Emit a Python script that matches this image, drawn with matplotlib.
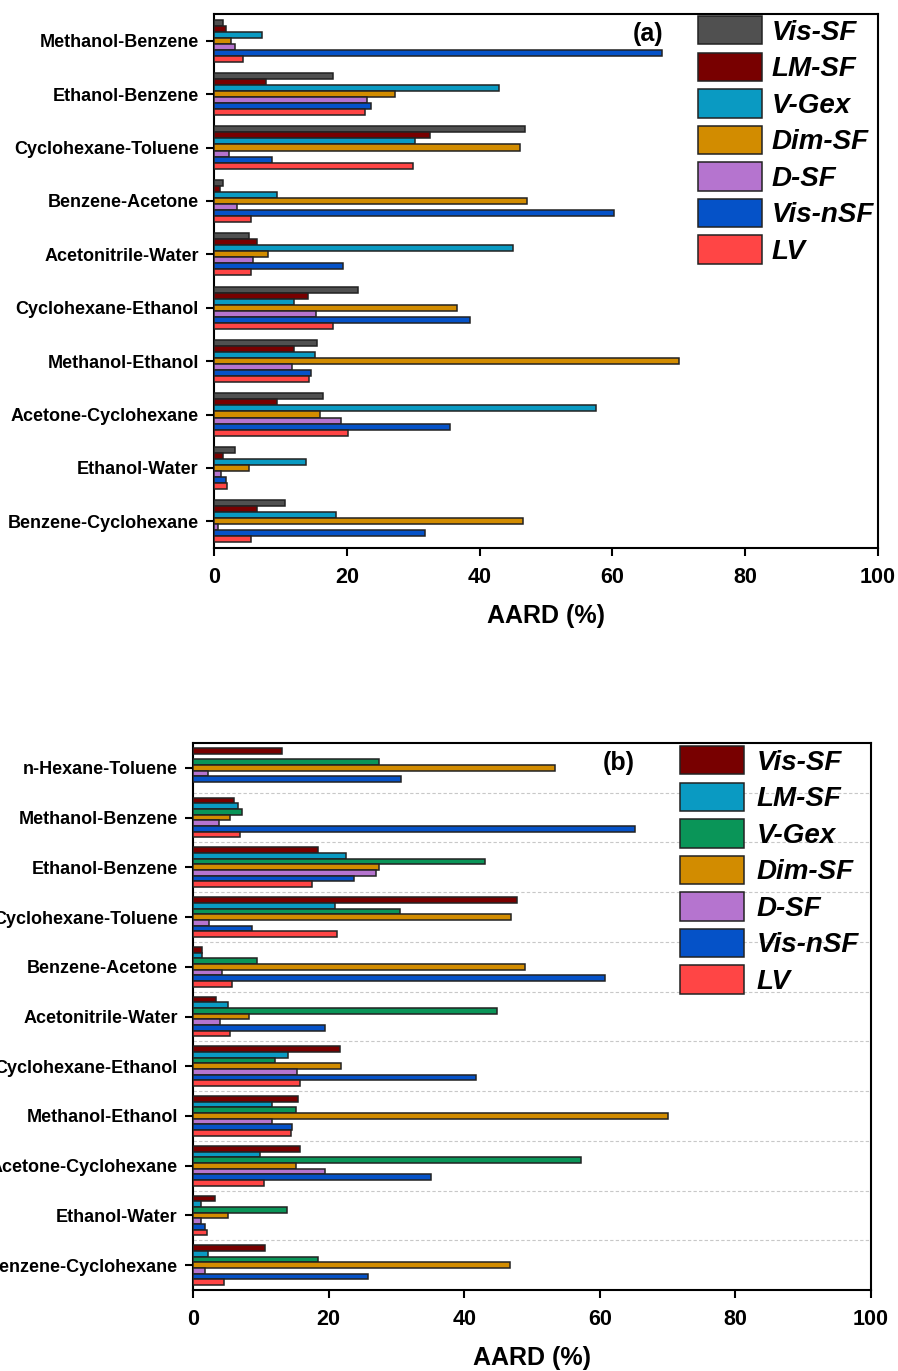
import numpy as np
import matplotlib.pyplot as plt

plt.rcParams['font.family'] = ['Liberation Sans', 'DejaVu Sans']
plt.rcParams['font.weight'] = 'bold'

# ---- panel (a) data ----
systems_a = ['Methanol-Benzene', 'Ethanol-Benzene', 'Cyclohexane-Toluene', 'Benzene-Acetone',
             'Acetonitrile-Water', 'Cyclohexane-Ethanol', 'Methanol-Ethanol',
             'Acetone-Cyclohexane', 'Ethanol-Water', 'Benzene-Cyclohexane']
models_a = ['Vis-SF', 'LM-SF', 'V-Gex', 'Dim-SF', 'D-SF', 'Vis-nSF', 'LV']
colors_a = ['#505050', '#780000', '#0a9ac2', '#d28c00', '#b574cf', '#0552c8', '#ff4545']

vis_sf_a = [1.3, 17.9, 46.8, 1.4, 5.2, 21.7, 15.5, 16.4, 3.2, 10.7]
lm_sf_a = [1.8, 7.8, 32.5, 0.9, 6.5, 14.1, 12.1, 9.5, 1.3, 6.5]
v_gex_a = [7.3, 42.9, 30.2, 9.5, 45.0, 12.0, 15.2, 57.5, 13.8, 18.3]
dim_sf_a = [2.6, 27.3, 46.1, 47.2, 8.2, 36.6, 70.1, 16.0, 5.2, 46.5]
d_sf_a = [3.2, 23.0, 2.3, 3.5, 5.8, 15.4, 11.7, 19.1, 1.1, 0.6]
vis_nsf_a = [67.5, 23.6, 8.7, 60.3, 19.5, 38.5, 14.6, 35.5, 1.8, 31.8]
lv_a = [4.3, 22.7, 29.9, 5.6, 5.5, 17.9, 14.3, 20.2, 2.0, 5.5]
series_a = [vis_sf_a, lm_sf_a, v_gex_a, dim_sf_a, d_sf_a, vis_nsf_a, lv_a]

# ---- panel (b) data ----
systems_b = ['n-Hexane-Toluene', 'Methanol-Benzene', 'Ethanol-Benzene', 'Cyclohexane-Toluene',
             'Benzene-Acetone', 'Acetonitrile-Water', 'Cyclohexane-Ethanol', 'Methanol-Ethanol',
             'Acetone-Cyclohexane', 'Ethanol-Water', 'Benzene-Cyclohexane']
models_b = ['Vis-SF', 'LM-SF', 'V-Gex', 'Dim-SF', 'D-SF', 'Vis-nSF', 'LV']
colors_b = ['#780000', '#0a9ac2', '#0a9558', '#d28c00', '#b574cf', '#0552c8', '#ff4545']

vis_sf_b = [13.2, 6.1, 18.5, 47.8, 1.4, 3.4, 21.7, 15.5, 15.8, 3.3, 10.6]
lm_sf_b = [np.nan, 6.6, 22.6, 21.0, 1.3, 5.2, 14.0, 11.6, 9.9, 1.2, 2.2]
v_gex_b = [27.5, 7.3, 43.0, 30.5, 9.4, 44.9, 12.1, 15.2, 57.3, 13.8, 18.4]
dim_sf_b = [53.4, 5.4, 27.5, 46.9, 49.0, 8.3, 21.9, 70.1, 15.2, 5.2, 46.8]
d_sf_b = [2.2, 3.8, 27.0, 2.3, 4.3, 4.0, 15.4, 11.7, 19.5, 1.2, 1.7]
vis_nsf_b = [30.7, 65.2, 23.8, 8.7, 60.8, 19.4, 41.8, 14.6, 35.1, 1.8, 25.8]
lv_b = [np.nan, 6.9, 17.5, 21.2, 5.7, 5.5, 15.8, 14.4, 10.5, 2.1, 4.6]
series_b = [vis_sf_b, lm_sf_b, v_gex_b, dim_sf_b, d_sf_b, vis_nsf_b, lv_b]


def draw_panel(ax, systems, models, colors, series, bar_h, tag, tag_x, grid=False):
    y = np.arange(len(systems))
    n = len(series)
    for i, (vals, c, name) in enumerate(zip(series, colors, models)):
        offs = (i - (n - 1) / 2) * bar_h
        ax.barh(y + offs, vals, height=bar_h, color=c, edgecolor='#222222',
                linewidth=1.1, label=name, zorder=3)
    if grid:
        for k in range(len(systems) - 1):
            ax.axhline(k + 0.5, color='#c8c8c8', linestyle=(0, (3, 2)), linewidth=0.8, zorder=1)
    ax.set_yticks(y)
    ax.set_yticklabels(systems, fontsize=13, fontweight='bold')
    ax.set_ylim(len(systems) - 0.5, -0.5)
    ax.set_xlim(0, 100)
    ax.set_xticks([0, 20, 40, 60, 80, 100])
    ax.tick_params(axis='x', labelsize=15.5, direction='out', length=6, width=1.5, pad=8)
    ax.tick_params(axis='y', direction='out', length=6, width=1.5, pad=5)
    for lab in ax.get_xticklabels():
        lab.set_fontweight('bold')
    ax.set_xlabel('AARD (%)', fontsize=18, fontweight='bold', labelpad=11)
    for sp in ax.spines.values():
        sp.set_linewidth(1.5)
    ax.text(tag_x, 0.985, tag, transform=ax.transAxes, ha='center', va='top',
            fontsize=18, fontweight='bold')


fig = plt.figure(figsize=(8.98, 13.71), dpi=100)

ax1 = fig.add_axes([214 / 898, 1 - 548 / 1371, 664 / 898, 534 / 1371])
draw_panel(ax1, systems_a, models_a, colors_a, series_a, 0.1125, '(a)', 0.654)
ax1.legend(loc='upper left', bbox_to_anchor=(698 / 898, 1 - 16 / 1371),
           bbox_transform=fig.transFigure, frameon=False, borderpad=0, borderaxespad=0,
           handlelength=2.3, handleheight=1.2, handletextpad=0.35, labelspacing=0.25,
           prop={'size': 20, 'weight': 'bold', 'style': 'italic'})

ax2 = fig.add_axes([193 / 898, 1 - 1290 / 1371, 678 / 898, 547 / 1371])
draw_panel(ax2, systems_b, models_b, colors_b, series_b, 0.114, '(b)', 0.628, grid=True)
ax2.legend(loc='upper left', bbox_to_anchor=(680 / 898, 1 - 746 / 1371),
           bbox_transform=fig.transFigure, frameon=False, borderpad=0, borderaxespad=0,
           handlelength=2.3, handleheight=1.2, handletextpad=0.45, labelspacing=0.25,
           prop={'size': 20, 'weight': 'bold', 'style': 'italic'})

fig.savefig('out.png', dpi=100)
